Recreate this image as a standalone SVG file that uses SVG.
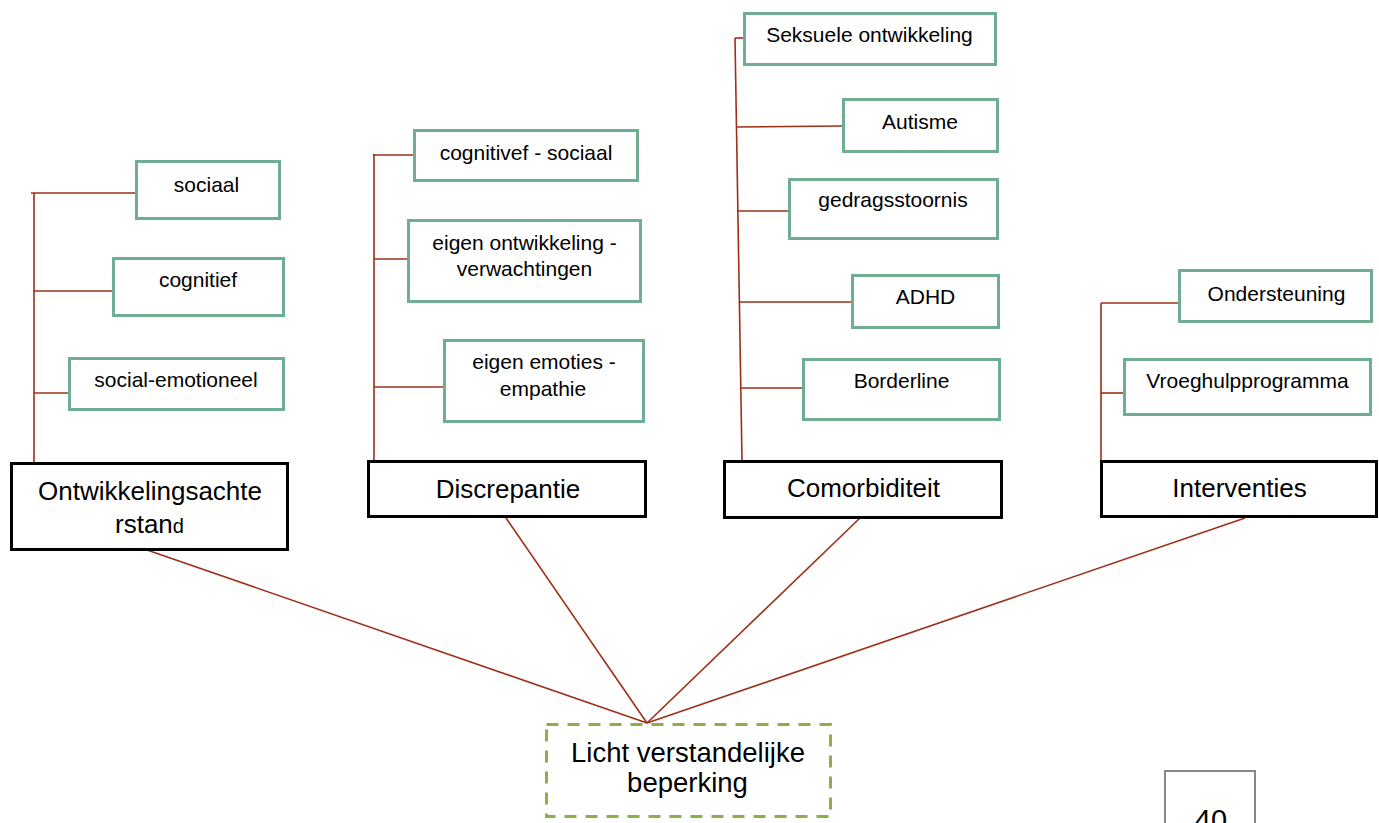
<svg xmlns="http://www.w3.org/2000/svg" width="1379" height="823" viewBox="0 0 1379 823">
<style>
.sub{fill:#fff;stroke:#6fae93;stroke-width:3}
.main{fill:#fff;stroke:#000;stroke-width:3}
.st{font-family:"Liberation Sans",Arial,sans-serif;font-size:21px;fill:#000;text-anchor:middle}
.mt{font-family:"Liberation Sans",Arial,sans-serif;font-size:26px;fill:#000;text-anchor:middle}
.con{stroke:#9e2f17;stroke-width:1.6;fill:none}
</style>
<rect width="1379" height="823" fill="#fff"/>
<g id="connectors">
<line class="con" x1="34" y1="193" x2="34" y2="462"/>
<line class="con" x1="31" y1="193" x2="135" y2="193"/>
<line class="con" x1="34" y1="291" x2="112" y2="291"/>
<line class="con" x1="34" y1="393" x2="68" y2="393"/>
<line class="con" x1="374" y1="154" x2="374" y2="460"/>
<line class="con" x1="373" y1="155" x2="413" y2="155"/>
<line class="con" x1="374" y1="259" x2="407" y2="259"/>
<line class="con" x1="374" y1="387" x2="443" y2="387"/>
<line class="con" x1="735" y1="38" x2="742" y2="460"/>
<line class="con" x1="735" y1="38" x2="743" y2="38"/>
<line class="con" x1="736" y1="127" x2="842" y2="126"/>
<line class="con" x1="737" y1="211" x2="788" y2="211"/>
<line class="con" x1="739" y1="302" x2="851" y2="302"/>
<line class="con" x1="741" y1="388" x2="802" y2="388"/>
<line class="con" x1="1101" y1="303" x2="1101" y2="460"/>
<line class="con" x1="1101" y1="303" x2="1178" y2="303"/>
<line class="con" x1="1101" y1="393" x2="1123" y2="393"/>
<line class="con" x1="147" y1="550" x2="647" y2="723"/>
<line class="con" x1="506" y1="518" x2="647" y2="723"/>
<line class="con" x1="860" y1="518" x2="647" y2="723"/>
<line class="con" x1="1245" y1="518" x2="647" y2="723"/>
</g>
<g id="n-sociaal"><rect class="sub" x="136.5" y="161.5" width="143" height="57"/><text class="st" x="206.5" y="192">sociaal</text></g>
<g id="n-cognitief"><rect class="sub" x="113.5" y="258.5" width="170" height="57"/><text class="st" x="198" y="287">cognitief</text></g>
<g id="n-social-emotioneel"><rect class="sub" x="69.5" y="358.5" width="214" height="51"/><text class="st" x="176" y="387">social-emotioneel</text></g>
<g id="n-ontwikkelingsachterstand"><rect class="main" x="11.5" y="463.5" width="276" height="86"/><text class="mt" x="150" y="500">Ontwikkelingsachte</text><text class="mt" x="115" y="533" style="text-anchor:start">rstan<tspan style="font-size:20px">d</tspan></text></g>
<g id="n-cognitivef"><rect class="sub" x="414.5" y="130.5" width="223" height="50"/><text class="st" x="526" y="160">cognitivef - sociaal</text></g>
<g id="n-eigen-ontwikkeling"><rect class="sub" x="408.5" y="220.5" width="232" height="81"/><text class="st" x="524.5" y="250">eigen ontwikkeling -</text><text class="st" x="524.5" y="276">verwachtingen</text></g>
<g id="n-eigen-emoties"><rect class="sub" x="444.5" y="340.5" width="199" height="81"/><text class="st" x="544" y="369">eigen emoties -</text><text class="st" x="543" y="396">empathie</text></g>
<g id="n-discrepantie"><rect class="main" x="368.5" y="461.5" width="277" height="55"/><text class="mt" x="508" y="498">Discrepantie</text></g>
<g id="n-seksuele"><rect class="sub" x="744.5" y="13.5" width="251" height="51"/><text class="st" x="869.5" y="42">Seksuele ontwikkeling</text></g>
<g id="n-autisme"><rect class="sub" x="843.5" y="99.5" width="154" height="52"/><text class="st" x="920" y="129">Autisme</text></g>
<g id="n-gedragsstoornis"><rect class="sub" x="789.5" y="179.5" width="208" height="59"/><text class="st" x="893" y="207">gedragsstoornis</text></g>
<g id="n-adhd"><rect class="sub" x="852.5" y="275.5" width="146" height="52"/><text class="st" x="925.5" y="304">ADHD</text></g>
<g id="n-borderline"><rect class="sub" x="803.5" y="359.5" width="196" height="60"/><text class="st" x="901.5" y="388">Borderline</text></g>
<g id="n-comorbiditeit"><rect class="main" x="724.5" y="461.5" width="277" height="56"/><text class="mt" x="863.5" y="497">Comorbiditeit</text></g>
<g id="n-ondersteuning"><rect class="sub" x="1179.5" y="270.5" width="192" height="51"/><text class="st" x="1276.5" y="301">Ondersteuning</text></g>
<g id="n-vroeghulp"><rect class="sub" x="1124.5" y="359.5" width="246" height="55"/><text class="st" x="1247.5" y="388">Vroeghulpprogramma</text></g>
<g id="n-interventies"><rect class="main" x="1101.5" y="461.5" width="275" height="55"/><text class="mt" x="1239.5" y="497">Interventies</text></g>
<g id="n-lvb"><rect x="546.5" y="724.5" width="284" height="92" fill="#fff" stroke="#8fad4a" stroke-width="3" stroke-dasharray="12,9"/><text class="mt" x="688" y="762" style="font-size:27.5px">Licht verstandelijke</text><text class="mt" x="687.5" y="792" style="font-size:27.5px">beperking</text></g>
<g id="page"><rect x="1165" y="771" width="90" height="70" fill="#fff" stroke="#888" stroke-width="2"/><text class="mt" x="1211" y="830" style="font-size:29px">40</text></g>
</svg>
